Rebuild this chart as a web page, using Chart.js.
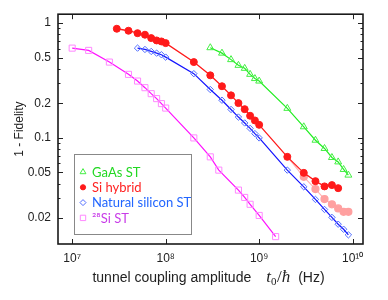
<!DOCTYPE html>
<html><head><meta charset="utf-8">
<script src="https://cdn.jsdelivr.net/npm/chart.js@4/dist/chart.umd.min.js"></script>
<style>html,body{margin:0;padding:0;background:#fff}#wrap{width:388px;height:300px;position:relative}</style>
</head><body><div id="wrap"><canvas id="c" width="388" height="300"></canvas></div>
<script>
const xTickValues = [1e7, 1e8, 1e9, 1e10];
const xTickLabels = ['10⁷', '10⁸', '10⁹', '10¹⁰'];
const yTickValues = [0.02, 0.05, 0.1, 0.2, 0.5, 1];
const yTickLabels = ['0.02', '0.05', '0.1', '0.2', '0.5', '1'];
const seriesNames = ['GaAs ST', 'Si hybrid', 'Natural silicon ST', '²⁸Si ST'];
const xTitle = ['tunnel coupling amplitude', 't', '0', '/', 'ħ', '(Hz)'];
const yTitle = '1 - Fidelity';

const gaasX = [3e8,4e8,5e8,6e8,7e8,8e8,9e8,1e9,2e9,3e9,4e9,5e9,6e9,7e9,8e9,9e9];
const gaasY = [0.611,0.548,0.481,0.429,0.404,0.358,0.329,0.313,0.181,0.125,0.0955,0.0809,0.0675,0.0618,0.0531,0.0474];

const siHybridX = [3e7,4e7,5e7,6e7,7e7,8e7,9e7,1e8,2e8,3e8,4e8,5e8,6e8,7e8,8e8,9e8,1e9,2e9,3e9,4e9,5e9,6e9,7e9];
const siHybridY = [0.894,0.859,0.818,0.793,0.741,0.707,0.693,0.670,0.458,0.351,0.282,0.235,0.201,0.178,0.156,0.142,0.130,0.0684,0.0496,0.0420,0.0378,0.0388,0.0365];

const siHybridFadedX = [2e9,3e9,4e9,5e9,6e9,7e9,8e9,9e9];
const siHybridFadedY = [0.0684,0.0458,0.0358,0.0293,0.0264,0.0243,0.0227,0.0227];

const natSiX = [5e7,6e7,7e7,8e7,9e7,1e8,2e8,3e8,4e8,5e8,6e8,7e8,8e8,9e8,1e9,2e9,3e9,4e9,5e9,6e9,7e9,8e9,9e9];
const natSiY = [0.606,0.590,0.567,0.548,0.531,0.506,0.363,0.264,0.213,0.177,0.152,0.135,0.121,0.109,0.100,0.0524,0.0375,0.0291,0.0238,0.0203,0.0177,0.0160,0.0143];

const si28X = [1e7,1.5e7,2.5e7,4e7,5e7,6e7,7e7,8e7,9e7,1e8,2e8,3e8,3.7e8,6e8,7e8,8e8,1e9,1.5e9];
const si28Y = [0.606,0.579,0.458,0.358,0.313,0.274,0.243,0.220,0.199,0.182,0.100,0.0684,0.0524,0.0351,0.0303,0.0264,0.0211,0.0138];

const pts = (xs, ys) => xs.map((x, i) => ({x, y: ys[i]}));

Chart.defaults.font.family = '"Liberation Sans", Arial, sans-serif';
Chart.defaults.color = '#222';

const legendColors = ['#22d822', '#ff2222', '#2266ff', '#c83ce8'];
const legendRadius = [3.4, 2.6, 3, 3.8];

const decor = {
  id: 'decor',
  afterDraw(chart) {
    const ctx = chart.ctx, a = chart.chartArea;
    const xs = chart.scales.x, ys = chart.scales.y;
    ctx.save();
    // ticks
    ctx.strokeStyle = '#222'; ctx.lineWidth = 1;
    ctx.beginPath();
    xTickValues.forEach(v => {
      const p = Math.round(xs.getPixelForValue(v)) + 0.5;
      ctx.moveTo(p, a.bottom); ctx.lineTo(p, a.bottom - 5);
      ctx.moveTo(p, a.top); ctx.lineTo(p, a.top + 5);
    });
    for (let e = -2; e <= 0; e++) {
      for (let m = 1; m <= 9; m++) {
        const v = m * Math.pow(10, e);
        if (v < ys.min || v > ys.max) continue;
        const major = yTickValues.some(t => Math.abs(t - v) / v < 1e-6);
        const L = major ? 5 : 2.5;
        const p = Math.round(ys.getPixelForValue(v)) + 0.5;
        ctx.moveTo(a.left, p); ctx.lineTo(a.left + L, p);
        ctx.moveTo(a.right, p); ctx.lineTo(a.right - L, p);
      }
    }
    ctx.stroke();
    // frame
    ctx.lineWidth = 1.6; ctx.strokeStyle = '#1a1a1a';
    ctx.strokeRect(a.left, a.top, a.right - a.left, a.bottom - a.top);

    // legend
    const lx = 74, ly = 154, lw = 117, lh = 80;
    ctx.fillStyle = '#fff';
    ctx.fillRect(lx, ly, lw, lh);
    ctx.lineWidth = 1; ctx.strokeStyle = '#888';
    ctx.strokeRect(lx + 0.5, ly + 0.5, lw, lh);
    const ds = chart.data.datasets;
    ctx.font = '13px Lato, "Open Sans", sans-serif';
    ctx.textBaseline = 'middle'; ctx.textAlign = 'left';
    for (let i = 0; i < 4; i++) {
      const d = ds[i];
      const cy = 172 + i * 15.3;
      ctx.strokeStyle = d.pointBorderColor; ctx.fillStyle = d.pointBackgroundColor;
      ctx.lineWidth = 1;
      Chart.helpers.drawPoint(ctx, {pointStyle: d.pointStyle, radius: legendRadius[i], rotation: 0, borderWidth: 1}, 83, cy);
      ctx.fillStyle = legendColors[i];
      ctx.fillText(seriesNames[i], 92, cy + 0.5);
    }

    // y title
    ctx.fillStyle = '#222';
    ctx.save();
    ctx.translate(20, (a.top + a.bottom) / 2);
    ctx.rotate(-Math.PI / 2);
    ctx.font = '12px "Liberation Sans", Arial, sans-serif';
    ctx.textAlign = 'center'; ctx.textBaseline = 'middle';
    ctx.fillText(yTitle, 0, 0);
    ctx.restore();

    // x title
    const sans = '14px "Liberation Sans", Arial, sans-serif';
    const ital = 'italic 17px "Liberation Serif", serif';
    const serif = '17px "Liberation Serif", serif';
    const sub = '11px "Liberation Serif", serif';
    const parts = [
      {t: xTitle[0], f: sans, dy: 0, gap: 15},
      {t: xTitle[1], f: ital, dy: 0, gap: 0},
      {t: xTitle[2], f: sub, dy: 3, gap: 0.5},
      {t: xTitle[3], f: serif, dy: 0, gap: 0},
      {t: xTitle[4], f: ital, dy: 0, gap: 8},
      {t: xTitle[5], f: sans, dy: 0, gap: 0}
    ];
    let total = 0;
    parts.forEach(p => { ctx.font = p.f; p.w = ctx.measureText(p.t).width; total += p.w + p.gap; });
    let x = 208.5 - total / 2;
    ctx.textAlign = 'left'; ctx.textBaseline = 'alphabetic';
    parts.forEach(p => { ctx.font = p.f; ctx.fillText(p.t, x, 282 + p.dy); x += p.w + p.gap; });
    ctx.restore();
  }
};

new Chart(document.getElementById('c'), {
  type: 'line',
  data: {
    datasets: [
      {label: seriesNames[0], data: pts(gaasX, gaasY), borderColor: '#22ee22', borderWidth: 1.2,
       pointStyle: 'triangle', pointRadius: 4, pointBorderColor: '#44ee44', pointBackgroundColor: 'rgba(0,0,0,0)', pointBorderWidth: 1, order: 1},
      {label: seriesNames[1], data: pts(siHybridX, siHybridY), borderColor: '#ff1a1a', borderWidth: 1.3,
       pointStyle: 'circle', pointRadius: 3.5, pointBorderColor: '#ff1a1a', pointBackgroundColor: '#ff1a1a', pointBorderWidth: 1, order: 2},
      {label: seriesNames[2], data: pts(natSiX, natSiY), borderColor: '#1414ff', borderWidth: 1.2,
       pointStyle: 'rectRot', pointRadius: 3.2, pointBorderColor: '#4f6cff', pointBackgroundColor: 'rgba(0,0,0,0)', pointBorderWidth: 1, order: 3},
      {label: seriesNames[3], data: pts(si28X, si28Y), borderColor: '#ff10ff', borderWidth: 1.2,
       pointStyle: 'rect', pointRadius: 4.3, pointBorderColor: '#ff88ff', pointBackgroundColor: 'rgba(0,0,0,0)', pointBorderWidth: 1, order: 4},
      {label: 'faded', data: pts(siHybridFadedX, siHybridFadedY), borderColor: '#ffb4b4', borderWidth: 1.2,
       pointStyle: 'circle', pointRadius: c => c.dataIndex === 0 ? 0 : 3.5, pointBorderColor: '#ffa0a0', pointBackgroundColor: '#ffa0a0', order: 10}
    ]
  },
  options: {
    responsive: false, animation: false, devicePixelRatio: 1,
    layout: {padding: {top: 14, right: 25, left: 0, bottom: 0}},
    plugins: {legend: {display: false}, tooltip: {enabled: false}},
    elements: {line: {tension: 0}},
    scales: {
      x: {
        type: 'logarithmic', min: 7.05e6, max: 1.29e10,
        grid: {display: false, drawTicks: false}, border: {display: false},
        afterBuildTicks: s => { s.ticks = xTickValues.map(v => ({value: v})); },
        afterFit: s => { s.height = 56; },
        ticks: {padding: 7, font: {size: 12}, color: '#222', maxRotation: 0, autoSkip: false,
          callback: (v) => { const i = xTickValues.indexOf(v); return i >= 0 ? xTickLabels[i] : ''; }}
      },
      y: {
        type: 'logarithmic', min: 0.0119, max: 1.197,
        grid: {display: false, drawTicks: false}, border: {display: false},
        afterBuildTicks: s => { s.ticks = yTickValues.map(v => ({value: v})); },
        afterFit: s => { s.width = 58; },
        ticks: {padding: 7, font: {size: 12}, color: '#222', autoSkip: false,
          callback: (v) => { const i = yTickValues.indexOf(v); return i >= 0 ? yTickLabels[i] : ''; }}
      }
    }
  },
  plugins: [decor]
});
</script></body></html>
